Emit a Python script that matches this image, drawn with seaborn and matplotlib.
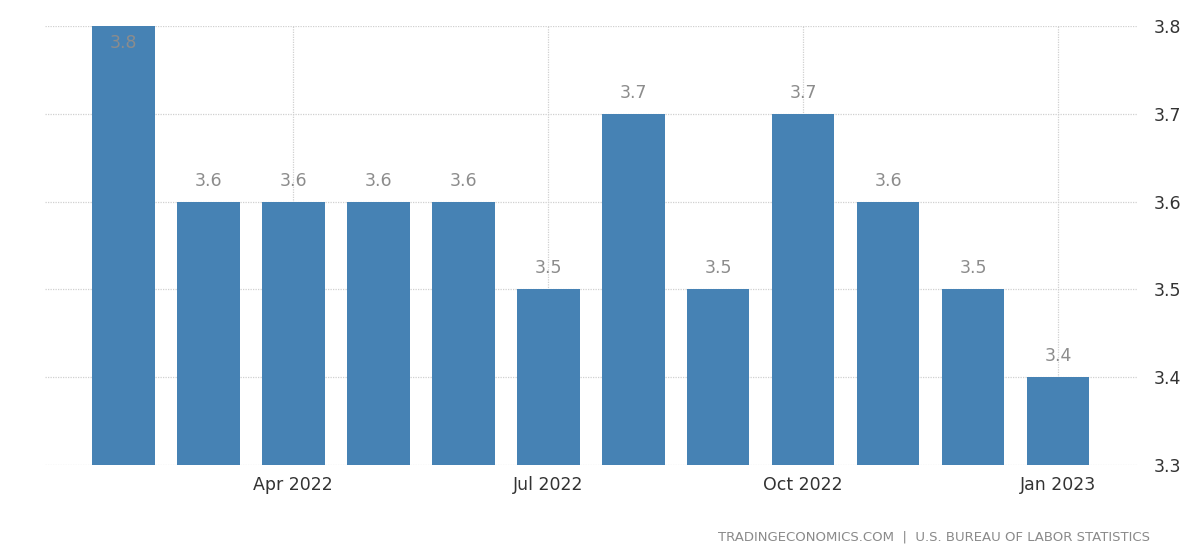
import matplotlib
matplotlib.use("Agg")
import matplotlib.pyplot as plt
import seaborn as sns

# Data
months = ["Feb 2022", "Mar 2022", "Apr 2022", "May 2022", "Jun 2022", "Jul 2022",
          "Aug 2022", "Sep 2022", "Oct 2022", "Nov 2022", "Dec 2022", "Jan 2023"]
values = [3.8, 3.6, 3.6, 3.6, 3.6, 3.5, 3.7, 3.5, 3.7, 3.6, 3.5, 3.4]
shown_ticks = ["Apr 2022", "Jul 2022", "Oct 2022", "Jan 2023"]
y_ticks = [3.3, 3.4, 3.5, 3.6, 3.7, 3.8]

sns.set_style("white")
plt.rcParams['font.family'] = ['DejaVu Sans']

fig = plt.figure(figsize=(12, 5.54), dpi=100)
ax = fig.add_axes([0.0375, 0.161, 0.91, 0.792])

sns.barplot(x=months, y=values, color="#4682B4", saturation=1, width=0.74,
            linewidth=0, ax=ax)

ax.set_ylim(3.3, 3.8)
ax.set_xlim(-0.92, 11.93)
ax.yaxis.tick_right()
ax.set_yticks(y_ticks)
ax.set_yticklabels([f"{t:.1f}" for t in y_ticks])
tick_pos = [months.index(m) for m in shown_ticks]
ax.set_xticks(tick_pos)
ax.set_xticklabels(shown_ticks)
ax.tick_params(axis='both', labelsize=12.5, labelcolor="#333333", length=0, pad=8)
ax.tick_params(axis='y', pad=12)
ax.grid(True, axis='both', color="#d0d0d0", linestyle=(0, (1, 1)), linewidth=0.9)
ax.set_axisbelow(True)
for s in ax.spines.values():
    s.set_visible(False)
ax.set_xlabel("")
ax.set_ylabel("")

# value labels
for i, v in enumerate(values):
    if v >= 3.8:
        off = -12
    else:
        off = 15
    ax.annotate(f"{v:.1f}", (i, min(v, 3.8)), xytext=(0, off), textcoords="offset points",
                ha="center", va="center", fontsize=12.5, color="#8c8c8c", annotation_clip=False)

fig.text(0.958, 0.03, "TRADINGECONOMICS.COM  |  U.S. BUREAU OF LABOR STATISTICS",
         ha="right", va="center", fontsize=9.5, color="#8a8a8a")

fig.savefig("out.png", dpi=100, facecolor="white")
